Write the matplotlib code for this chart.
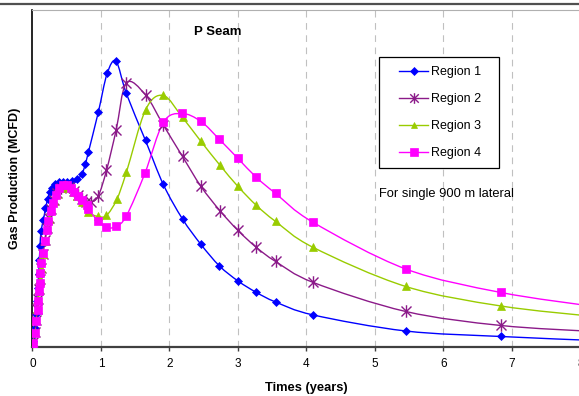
import matplotlib
matplotlib.use("Agg")
import matplotlib.pyplot as plt
from matplotlib.path import Path
from matplotlib.patches import PathPatch, Rectangle
from matplotlib.lines import Line2D
import numpy as np

plt.rcParams['font.family'] = ['Liberation Sans', 'DejaVu Sans']

# ---- data (time in years, production in arbitrary chart units) ----
region1_t = [0, 0.01, 0.03, 0.045, 0.06, 0.075, 0.09, 0.10, 0.11, 0.124,
             0.158, 0.19, 0.22, 0.25, 0.28, 0.33, 0.39, 0.45, 0.51, 0.57,
             0.645, 0.72, 0.77, 0.815, 0.96, 1.09, 1.22, 1.37, 1.65, 1.91,
             2.19, 2.46, 2.73, 3.0, 3.27, 3.55, 4.10, 5.45, 6.84, 8.2]
region1_q = [0, 5, 18, 32, 45, 58, 72, 86, 100, 115,
             126, 138, 147, 154, 158, 162, 164, 164.5, 164.5, 165,
             167, 172, 182, 194, 234, 273, 285, 253, 206, 162,
             127.5, 102, 80.5, 65.5, 54, 44.5, 31.5, 15.5, 10, 6]

region2_t = [0, 0.01, 0.03, 0.05, 0.065, 0.08, 0.095, 0.11, 0.125, 0.15,
             0.18, 0.21, 0.24, 0.27, 0.31, 0.36, 0.42, 0.48, 0.54, 0.60,
             0.66, 0.72, 0.78, 0.85, 0.96, 1.08, 1.22, 1.37, 1.65, 1.91,
             2.19, 2.46, 2.74, 3.0, 3.27, 3.55, 4.10, 5.45, 6.84, 8.2]
region2_q = [0, 4, 14, 26, 37, 47, 57, 67, 78, 92,
             106, 118, 128, 137, 146, 153, 158, 160, 159, 155,
             151, 147, 144, 144, 150.5, 176, 216, 263.5, 251.5, 221.5,
             190, 160, 135.5, 116, 99, 85, 64, 35, 21, 15]

region3_t = [0, 0.01, 0.03, 0.05, 0.065, 0.08, 0.095, 0.11, 0.125, 0.15,
             0.18, 0.21, 0.24, 0.27, 0.31, 0.36, 0.42, 0.48, 0.54, 0.60,
             0.645, 0.72, 0.815, 0.96, 1.08, 1.23, 1.37, 1.65, 1.91, 2.19,
             2.46, 2.74, 3.0, 3.27, 3.55, 4.10, 5.45, 6.84, 8.2]
region3_q = [0, 4, 14, 26, 37, 47, 57, 67, 78, 92,
             105, 117, 127, 136, 145, 152, 158, 160, 158, 154,
             150, 144, 134, 130, 131, 147, 174, 236.5, 251, 229,
             205, 181, 160, 141, 125, 99, 60, 40.5, 30]

region4_t = [0, 0.012, 0.036, 0.051, 0.076, 0.085, 0.09, 0.11, 0.115, 0.124,
             0.149, 0.18, 0.21, 0.23, 0.27, 0.30, 0.34, 0.39, 0.45, 0.51,
             0.56, 0.61, 0.67, 0.73, 0.79, 0.815, 0.96, 1.08, 1.22, 1.37,
             1.64, 1.91, 2.18, 2.46, 2.73, 3.0, 3.27, 3.55, 4.10, 5.45,
             6.84, 8.2]
region4_q = [0, 3, 13.5, 25, 36.5, 45, 55, 63.5, 73.5, 83.5,
             93.5, 105, 116.5, 125, 135, 143, 151.5, 158, 161.5, 161.5,
             158, 154, 150, 146.5, 141.5, 137, 125.5, 119, 120, 130.5,
             173, 224, 233, 225, 207, 188, 169, 153, 124, 77.5,
             54, 40]

series_names = ["Region 1", "Region 2", "Region 3", "Region 4"]
x_ticks = [0, 1, 2, 3, 4, 5, 6, 7, 8]

# ---- styling ----
colors = ["#0000FF", "#8B1A89", "#99CC00", "#FF00FF"]
ast = Path([(-1, -1), (1, 1), (-1, 1), (1, -1), (0, -1.25), (0, 1.25)],
           [Path.MOVETO, Path.LINETO, Path.MOVETO, Path.LINETO, Path.MOVETO, Path.LINETO])
markers = ["D", ast, "^", "s"]
msizes = [4.3, 9.0, 5.8, 6.0]


def smooth_path(xs, ys):
    pts = np.column_stack([xs, ys]).astype(float)
    n = len(pts)
    verts = [pts[0]]
    codes = [Path.MOVETO]
    for i in range(n - 1):
        p0 = pts[i - 1] if i > 0 else pts[i]
        p1 = pts[i]
        p2 = pts[i + 1]
        p3 = pts[i + 2] if i + 2 < n else pts[i + 1]
        c1 = p1 + (p2 - p0) / 6.0
        c2 = p2 - (p3 - p1) / 6.0
        verts += [c1, c2, p2]
        codes += [Path.CURVE4] * 3
    return Path(verts, codes)


fig = plt.figure(figsize=(5.79, 3.96), dpi=100)
ax = fig.add_axes([0.0561, 0.125, 0.9465, 0.8485])

all_t = [region1_t, region2_t, region3_t, region4_t]
all_q = [region1_q, region2_q, region3_q, region4_q]

handles = []
for t, q, c, m, ms, name in zip(all_t, all_q, colors, markers, msizes, series_names):
    pp = PathPatch(smooth_path(t, q), fill=False, edgecolor=c, lw=1.0, zorder=3)
    ax.add_patch(pp)
    mew = 1.0 if m is ast else 0.5
    ax.plot(t, q, linestyle="none", marker=m, markersize=ms, color=c,
            markeredgecolor=c, markeredgewidth=mew, zorder=4)
    handles.append(Line2D([0], [0], color=c, lw=1.0, marker=m, markersize=ms * 0.85,
                          markeredgecolor=c, markeredgewidth=mew))

ax.set_xlim(0, 8)
ax.set_ylim(0, 336)
ax.set_xticks(x_ticks)
ax.set_xticklabels([str(v) for v in x_ticks], fontsize=8.5)
ax.set_yticks([])
ax.tick_params(axis="x", length=3, width=1, color="#404040", pad=5)

for v in x_ticks[1:]:
    ax.axvline(v, color="#C0C0C0", lw=0.8, dashes=(6, 5), zorder=1)

ax.spines["left"].set_color("black")
ax.spines["left"].set_linewidth(1.2)
ax.spines["bottom"].set_color("#404040")
ax.spines["bottom"].set_linewidth(1.6)
ax.spines["top"].set_color("#B0B0B0")
ax.spines["top"].set_linewidth(0.8)
ax.spines["right"].set_visible(False)

ax.set_xlabel("Times (years)", fontsize=9.3, fontweight="bold", labelpad=9)
ax.set_ylabel("Gas Production (MCFD)", fontsize=9.0, fontweight="bold", labelpad=8)

ax.text(0.3376, 0.936, "P Seam", transform=ax.transAxes, ha="center", va="center",
        fontsize=9.5, fontweight="bold")
ax.text(0.632, 0.455, "For single 900 m lateral", transform=ax.transAxes,
        ha="left", va="center", fontsize=9.3)

# legend box frame
ax.add_patch(Rectangle((0.632, 0.531), 0.219, 0.330, transform=ax.transAxes,
                       facecolor="white", edgecolor="black", lw=0.9, zorder=5))
leg = ax.legend(handles, series_names, loc="upper left", bbox_to_anchor=(0.6697, 0.834),
                borderaxespad=0, borderpad=0, fontsize=9, frameon=False,
                labelspacing=1.2, handlelength=2.3, handletextpad=0.25)
leg.set_zorder(6)

fig.add_artist(Line2D([0, 1], [0.9905, 0.9905], transform=fig.transFigure,
                      color="#505050", lw=1.6))

fig.savefig("out.png", dpi=100)
